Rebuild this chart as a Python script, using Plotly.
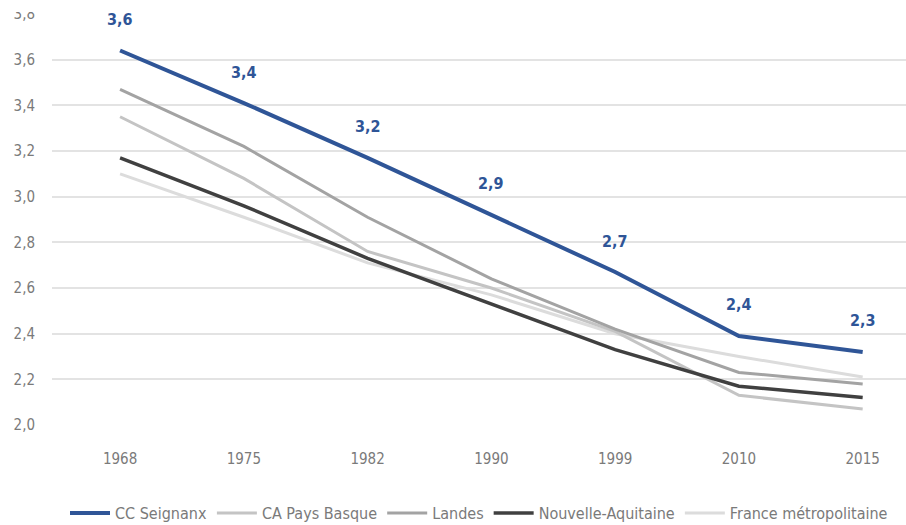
import plotly.graph_objects as go

years = ["1968", "1975", "1982", "1990", "1999", "2010", "2015"]

cc_seignanx = [3.64, 3.41, 3.17, 2.92, 2.67, 2.39, 2.32]
ca_pays_basque = [3.35, 3.08, 2.76, 2.60, 2.41, 2.13, 2.07]
landes = [3.47, 3.22, 2.91, 2.64, 2.42, 2.23, 2.18]
nouvelle_aquitaine = [3.17, 2.96, 2.73, 2.53, 2.33, 2.17, 2.12]
france_metro = [3.10, 2.91, 2.71, 2.57, 2.40, 2.30, 2.21]

FONT = "DejaVu Sans Condensed"
TEXT_GREY = "#7a7a7a"

# (name, values, colour, width, legend rank) in drawing order: blue on top
series = [
    ("France métropolitaine", france_metro, "#dcdcdc", 3, 5),
    ("CA Pays Basque", ca_pays_basque, "#c4c4c4", 3, 2),
    ("Landes", landes, "#a3a3a3", 3, 3),
    ("Nouvelle-Aquitaine", nouvelle_aquitaine, "#404040", 3.5, 4),
    ("CC Seignanx", cc_seignanx, "#2f5597", 4, 1),
]

fig = go.Figure()
for name, vals, color, width, rank in series:
    fig.add_trace(go.Scatter(
        x=years, y=vals, name=name, mode="lines",
        line=dict(color=color, width=width),
        legendrank=rank,
    ))

# value labels above the CC Seignanx line (x given as category index)
for i, v in enumerate(cc_seignanx):
    fig.add_annotation(
        x=i, y=v, text=f"{v:.1f}".replace(".", ","),
        showarrow=False, yshift=31,
        font=dict(family=FONT, size=16, color="#2f5597", weight="bold"),
    )

fig.update_layout(
    width=906, height=525,
    margin=dict(l=52, r=0, t=14, b=100, autoexpand=False),
    paper_bgcolor="white", plot_bgcolor="white",
    separators=", ",
    font=dict(family=FONT, size=15, color=TEXT_GREY),
    showlegend=True,
    legend=dict(
        orientation="h", x=0.5, xanchor="center",
        yref="container", y=12 / 525, yanchor="middle",
        font=dict(family=FONT, size=16, color=TEXT_GREY),
        itemwidth=40, traceorder="normal",
    ),
    xaxis=dict(
        type="category", range=[-0.55, 6.35],
        showgrid=False, showline=False, zeroline=False,
        ticks="", ticklabelstandoff=23,
    ),
    yaxis=dict(
        range=[2.0, 3.8], dtick=0.2, tickformat=".1f",
        showgrid=True, gridcolor="#e3e3e3", gridwidth=2,
        zeroline=False, showline=False, ticks="",
        ticklabelstandoff=16,
    ),
)

# white band across the top edge of the page
fig.add_shape(type="rect", xref="paper", yref="paper",
              x0=-0.1, x1=1.01, y0=1.0 + 2 / 411, y1=1.1,
              fillcolor="white", line_width=0, layer="above")

fig.write_html("out.html")
